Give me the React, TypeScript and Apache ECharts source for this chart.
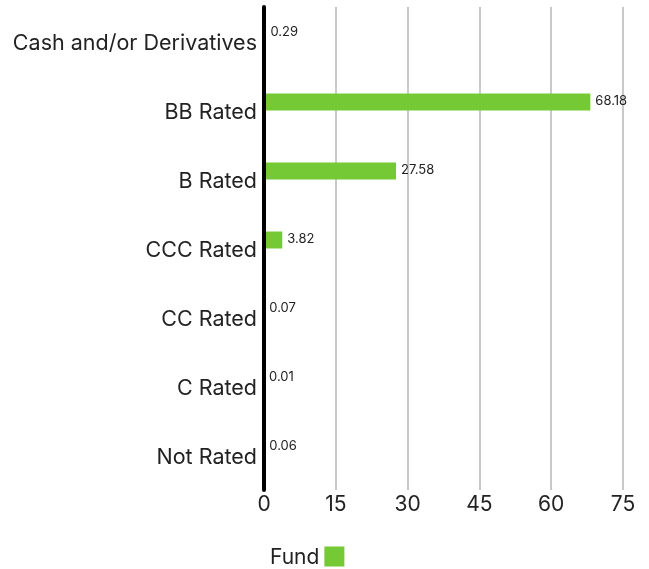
import React, { useEffect, useRef } from "react";
import * as echarts from "echarts";

const categories = [
  "Cash and/or Derivatives",
  "BB Rated",
  "B Rated",
  "CCC Rated",
  "CC Rated",
  "C Rated",
  "Not Rated",
];
const fundValues = [0.29, 68.18, 27.58, 3.82, 0.07, 0.01, 0.06];
const emptyValues: (number | null)[] = [null, null, null, null, null, null, null];
const xTicks = { min: 0, max: 75, interval: 15 };

export default function App() {
  const ref = useRef<HTMLDivElement>(null);
  useEffect(() => {
    if (!ref.current) return;
    const chart = echarts.init(ref.current, null, { renderer: "svg" });
    const font = "Inter, 'Noto Sans', sans-serif";
    chart.setOption({
      animation: false,
      grid: { left: 264, right: 26, top: 7, bottom: 79, containLabel: false },
      legend: {
        data: ["Fund"],
        bottom: 2,
        left: 270,
        padding: 0,
        align: "right",
        itemWidth: 20,
        itemHeight: 20,
        itemGap: 8,
        icon: "rect",
        textStyle: { fontFamily: font, fontSize: 21, color: "#222" },
      },
      xAxis: {
        type: "value",
        min: xTicks.min,
        max: xTicks.max,
        interval: xTicks.interval,
        axisLine: { show: false },
        axisTick: { show: false },
        splitLine: { show: true, lineStyle: { color: "#c8c8c8", width: 2 } },
        axisLabel: { fontFamily: font, fontSize: 21, color: "#222", margin: 3 },
      },
      yAxis: {
        type: "category",
        data: categories,
        inverse: true,
        z: 5,
        axisLine: { show: true, lineStyle: { color: "#000", width: 4 } },
        axisTick: { show: false },
        axisLabel: { fontFamily: font, fontSize: 21.5, color: "#222", margin: 7 },
      },
      series: [
        {
          name: "Fund",
          type: "bar",
          data: fundValues,
          barWidth: 17,
          barGap: "0%",
          itemStyle: { color: "#74c935" },
          label: {
            show: true,
            position: "right",
            fontFamily: font,
            fontSize: 13,
            color: "#222",
            distance: 5,
            offset: [0, -2],
          },
        },
        {
          name: "Benchmark",
          type: "bar",
          data: emptyValues,
          barWidth: 17,
          barGap: "0%",
          itemStyle: { color: "#888" },
        },
      ],
    });
    return () => chart.dispose();
  }, []);
  return (
    <div
      ref={ref}
      style={{ position: "fixed", left: 0, top: 0, width: 649, height: 569 }}
    />
  );
}
